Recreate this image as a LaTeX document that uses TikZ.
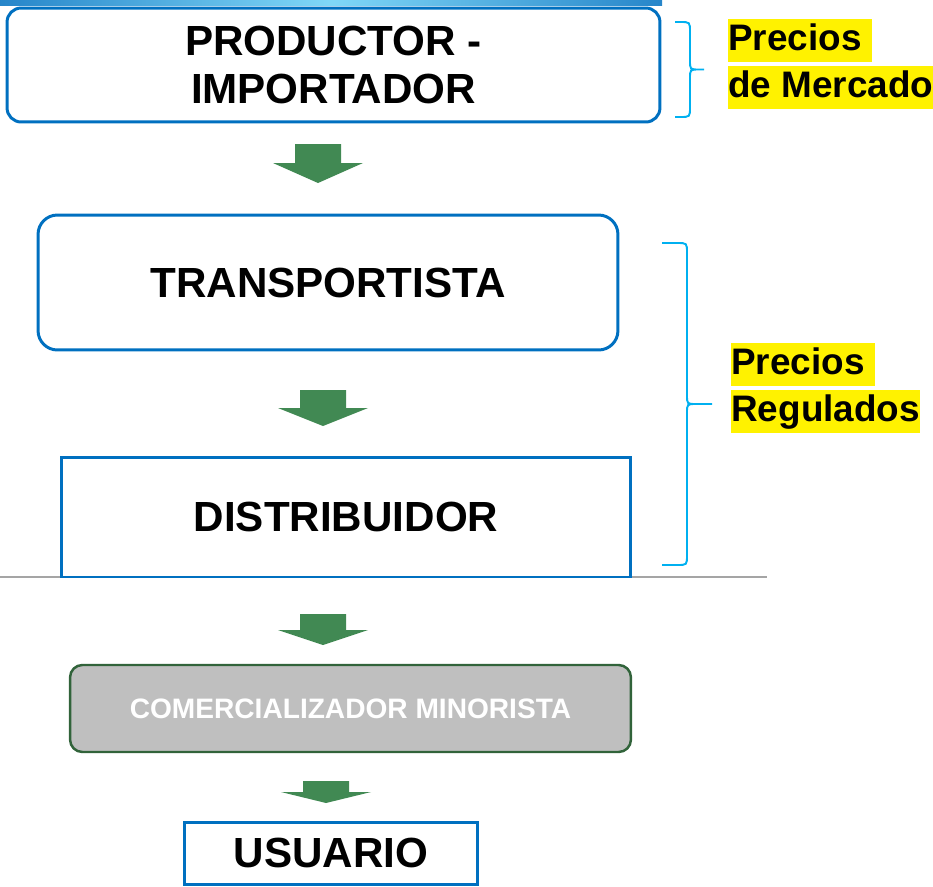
\documentclass[tikz,border=0pt]{standalone}
\usepackage{fontspec}
\setmainfont{Liberation Sans}
\usetikzlibrary{positioning}
\definecolor{azul}{RGB}{0,112,192}
\definecolor{celeste}{RGB}{0,176,240}
\definecolor{verde}{RGB}{65,137,83}
\definecolor{verdeosc}{RGB}{49,99,58}
\definecolor{gris}{RGB}{191,191,191}
\definecolor{linea}{RGB}{165,165,165}
% flecha verde: x centro, y arriba, y fin del cuerpo, y punta
\newcommand{\flecha}[4]{\fill[verde] (#1-23,#2) -- (#1+23,#2) -- (#1+23,#3) -- (#1+45,#3)
	-- (#1,#4) -- (#1-45,#3) -- (#1-23,#3) -- cycle;}
% llave: x extremos, y arriba, y abajo, x lomo, x punta
\newcommand{\llave}[5]{\draw[llavecel] (#1,#2) -- (#4-10,#2) .. controls (#4,#2) .. (#4,#2+10)
	-- (#4,{(#2+#3)/2-9}) .. controls (#4,{(#2+#3)/2}) .. (#4+9,{(#2+#3)/2}) -- (#5,{(#2+#3)/2})
	(#4+9,{(#2+#3)/2}) .. controls (#4,{(#2+#3)/2}) .. (#4,{(#2+#3)/2+9})
	-- (#4,#3-10) .. controls (#4,#3) .. (#4-10,#3) -- (#1,#3);}
\begin{document}
\begin{tikzpicture}[
		x=0.02cm, y=-0.02cm,
		caja/.style={
				draw=azul,
				line width=1.7pt,
				align=center,
				inner sep=0pt,
				font=\bfseries\fontsize{24}{27}\selectfont
			},
		cajaredonda/.style={caja, rounded corners=8pt},
		resaltado/.style={
				fill=yellow,
				inner sep=0pt,
				anchor=north west,
				text height=18pt,
				text depth=6.5pt,
				font=\bfseries\fontsize{21}{24}\selectfont
			},
		llavecel/.style={draw=celeste, line width=1.1pt}
	]
	\useasboundingbox (0,0) rectangle (933,886);
	% barra superior
	\shade[left color=azul!85, right color=azul!85, middle color=celeste!50] (0,0) rectangle (662,5);
	\draw[linea, line width=0.8pt] (0,577) -- (767,577);

	\node[cajaredonda, minimum width=13.06cm, minimum height=2.28cm] (prod) at (333.5,65) {PRODUCTOR -\\IMPORTADOR};
	\node[cajaredonda, rounded corners=11pt, minimum width=11.6cm, minimum height=2.7cm] (trans) at (328,282.5) {TRANSPORTISTA};
	\node[caja, minimum width=11.4cm, minimum height=2.4cm] (dist) at (346,517) {DISTRIBUIDOR};
	\node[caja, draw=verdeosc, fill=gris, text=white, rounded corners=7pt, line width=1.4pt,
		font=\bfseries\fontsize{16}{19}\selectfont,
		minimum width=11.22cm, minimum height=1.74cm] (comer) at (350.5,708.5) {COMERCIALIZADOR MINORISTA};
	\node[caja, minimum width=5.88cm, minimum height=1.24cm] (usu) at (331,853) {USUARIO};

	\flecha{318}{144}{163}{183}
	\flecha{323}{390}{408}{426}
	\flecha{323}{614}{630}{645}
	\flecha{326}{781}{792}{803}

	% llaves
	\llave{675}{22}{117}{690}{704}
	\llave{662}{243}{565}{687}{712}

	\node[resaltado] (mer1) at (728,19) {Precios\ \ };
	\node[resaltado, below=0.06cm of mer1.south west, anchor=north west] (mer2) {de Mercado};
	\node[resaltado] (reg1) at (731,343) {Precios\ \ };
	\node[resaltado, below=0.06cm of reg1.south west, anchor=north west] (reg2) {Regulados\ };
\end{tikzpicture}
\end{document}
